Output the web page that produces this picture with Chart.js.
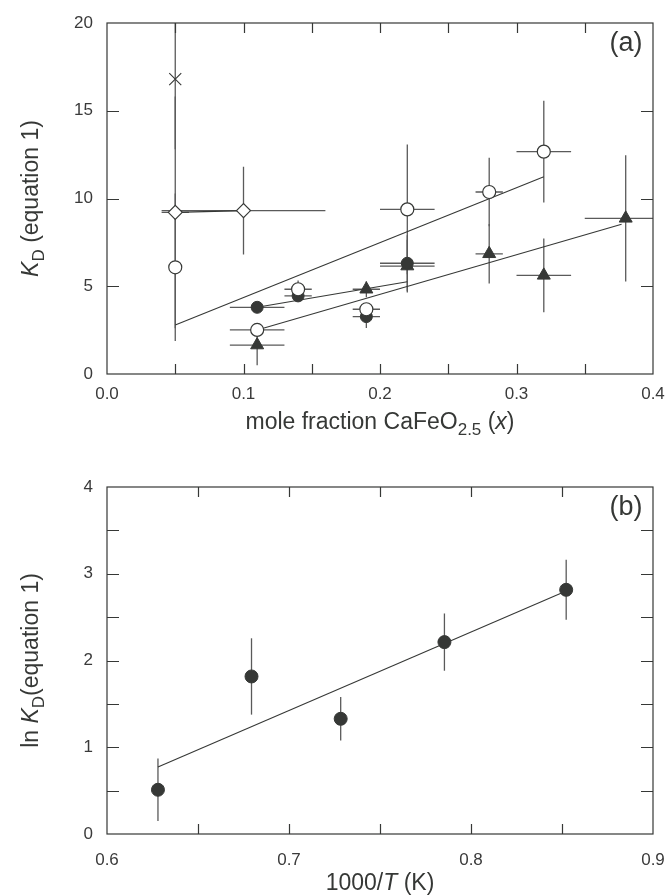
<!DOCTYPE html>
<html>
<head>
<meta charset="utf-8">
<script src="https://cdn.jsdelivr.net/npm/chart.js@4.4.0/dist/chart.umd.min.js"></script>
<style>
  html, body { margin: 0; padding: 0; background: #fff; }
  #wrap { position: relative; width: 666px; height: 896px; }
  canvas { position: absolute; left: 0; }
  #chartA { top: 0; }
  #chartB { top: 440px; }
</style>
</head>
<body>
<div id="wrap">
  <canvas id="chartA" width="666" height="440"></canvas>
  <canvas id="chartB" width="666" height="456"></canvas>
</div>
<script>
// ---- panel (a): K_D vs mole fraction CaFeO2.5 ----
const openCircX    = [0.05, 0.11, 0.14, 0.19, 0.22, 0.28, 0.32];
const openCircY    = [6.08, 2.51, 4.83, 3.69, 9.38, 10.37, 12.67];
const openCircXErr = [0, 0.02, 0.01, 0.01, 0.02, 0.01, 0.02];
const openCircYErr = [4.2, 0, 0.5, 0.3, 3.7, 1.95, 2.9];

const filledCircX    = [0.11, 0.14, 0.19, 0.22];
const filledCircY    = [3.80, 4.45, 3.27, 6.31];
const filledCircXErr = [0.02, 0.01, 0.01, 0.02];
const filledCircYErr = [0.3, 0.3, 0.65, 1.6];

const triX    = [0.11, 0.19, 0.22, 0.28, 0.32, 0.38];
const triY    = [1.65, 4.83, 6.15, 6.85, 5.62, 8.87];
const triXErr = [0.02, 0.01, 0.02, 0.01, 0.02, 0.03];
const triYErr = [1.15, 0.45, 1.5, 1.7, 2.1, 3.6];

const diamondX    = [0.05, 0.10];
const diamondY    = [9.21, 9.31];
const diamondXErr = [0.01, 0.06];
const diamondYErr = [6.6, 2.5];

const crossX    = [0.05];
const crossY    = [16.8];
const crossYErr = [4];

const circFitX   = [0.05, 0.32];
const circFitY   = [2.79, 11.24];
const filledFitX = [0.11, 0.22];
const filledFitY = [3.80, 5.26];
const triFitX    = [0.11, 0.377];
const triFitY    = [2.51, 8.53];

// ---- panel (b): ln K_D vs 1000/T ----
const invT    = [0.628, 0.6794, 0.7284, 0.7854, 0.8523];
const lnKD    = [0.51, 1.816, 1.328, 2.212, 2.815];
const lnKDErr = [0.36, 0.44, 0.25, 0.33, 0.345];
const lnFitX  = [0.628, 0.8523];
const lnFitY  = [0.772, 2.80];

const INK = '#363836';
const ERR = '#5a5a5a';
const FONT = '"Liberation Sans", Arial, Helvetica, sans-serif';

const pts = (xs, ys) => xs.map((x, i) => ({ x, y: ys[i] }));

// error bars drawn under the markers
const errorBars = {
  id: 'errorBars',
  beforeDatasetsDraw(chart) {
    const { ctx, chartArea: a, scales: { x, y } } = chart;
    ctx.save();
    ctx.beginPath();
    ctx.rect(a.left, a.top, a.right - a.left, a.bottom - a.top);
    ctx.clip();
    ctx.strokeStyle = ERR;
    ctx.lineWidth = 1.3;
    chart.data.datasets.forEach(ds => {
      if (!ds.xErr && !ds.yErr) return;
      ds.data.forEach((p, i) => {
        const ex = ds.xErr ? ds.xErr[i] : 0;
        const ey = ds.yErr ? ds.yErr[i] : 0;
        const px = x.getPixelForValue(p.x), py = y.getPixelForValue(p.y);
        ctx.beginPath();
        if (ex) {
          ctx.moveTo(x.getPixelForValue(p.x - ex), py);
          ctx.lineTo(x.getPixelForValue(p.x + ex), py);
        }
        if (ey) {
          ctx.moveTo(px, y.getPixelForValue(p.y - ey));
          ctx.lineTo(px, y.getPixelForValue(p.y + ey));
        }
        ctx.stroke();
      });
    });
    ctx.restore();
  }
};

// box with inward ticks on all four sides
const frameTicks = {
  id: 'frameTicks',
  afterDraw(chart, args, opts) {
    const { ctx, chartArea: a, scales: { x, y } } = chart;
    ctx.save();
    ctx.strokeStyle = INK;
    ctx.lineWidth = 1.2;
    ctx.strokeRect(a.left, a.top, a.right - a.left, a.bottom - a.top);
    const len = 10;
    ctx.beginPath();
    const nx = Math.round((x.max - x.min) / opts.xStep);
    for (let i = 1; i < nx; i++) {
      const px = Math.round(x.getPixelForValue(x.min + i * opts.xStep)) + 0.5;
      ctx.moveTo(px, a.bottom); ctx.lineTo(px, a.bottom - len);
      ctx.moveTo(px, a.top); ctx.lineTo(px, a.top + len);
    }
    const ny = Math.round((y.max - y.min) / opts.yStep);
    for (let i = 1; i < ny; i++) {
      const py = Math.round(y.getPixelForValue(y.min + i * opts.yStep)) + 0.5;
      ctx.moveTo(a.left, py); ctx.lineTo(a.left + len + 2, py);
      ctx.moveTo(a.right, py); ctx.lineTo(a.right - len - 2, py);
    }
    ctx.stroke();
    ctx.restore();
  }
};

function richText(ctx, parts, x, y, size, rotate) {
  ctx.save();
  ctx.translate(x, y);
  if (rotate) ctx.rotate(-Math.PI / 2);
  const fontOf = p => (p.italic ? 'italic ' : '') + (p.sub ? Math.round(size * 0.72) : size) + 'px ' + FONT;
  let total = 0;
  parts.forEach(p => { ctx.font = fontOf(p); total += ctx.measureText(p.t).width; });
  let cx = -total / 2;
  ctx.fillStyle = INK;
  ctx.textBaseline = 'alphabetic';
  parts.forEach(p => {
    ctx.font = fontOf(p);
    ctx.fillText(p.t, cx, p.sub ? size * 0.28 : 0);
    cx += ctx.measureText(p.t).width;
  });
  ctx.restore();
}

const titles = {
  id: 'titles',
  afterDraw(chart, args, opts) {
    const { ctx, chartArea: a } = chart;
    const mid = (a.top + a.bottom) / 2;
    richText(ctx, opts.yTitle, 38, mid, 23, true);
    richText(ctx, opts.xTitle, (a.left + a.right) / 2, opts.xTitleY, 23, false);
    ctx.save();
    ctx.font = '27px ' + FONT;
    ctx.fillStyle = INK;
    ctx.textAlign = 'center';
    ctx.fillText(opts.panel, 626, a.top + 28);
    ctx.restore();
  }
};

function axis(min, max, step, pad, digits, isX, size) {
  return {
    type: 'linear', min, max,
    grid: { display: false, drawTicks: false },
    border: { display: false },
    ticks: {
      stepSize: step, padding: pad, color: '#3a3a3a',
      font: { family: FONT, size: 17 },
      callback: v => v.toFixed(digits)
    },
    afterFit: s => {
      if (isX) { s.height = size; s.paddingLeft = 0; s.paddingRight = 0; }
      else { s.width = size; s.paddingTop = 0; s.paddingBottom = 0; }
    }
  };
}

const baseOpts = {
  responsive: false,
  animation: false,
  events: [],
};

new Chart(document.getElementById('chartA'), {
  type: 'scatter',
  data: {
    datasets: [
      { data: pts(crossX, crossY), yErr: crossYErr, pointStyle: 'crossRot', pointRadius: 8.5,
        borderColor: INK, borderWidth: 1.1, order: 1 },
      { data: pts(openCircX, openCircY), xErr: openCircXErr, yErr: openCircYErr, pointStyle: 'circle',
        pointRadius: 6.5, backgroundColor: '#fff', borderColor: INK, borderWidth: 1.2, order: 1 },
      { data: pts(diamondX, diamondY), xErr: diamondXErr, yErr: diamondYErr, pointStyle: 'rectRot',
        pointRadius: 7, backgroundColor: '#fff', borderColor: INK, borderWidth: 1.2,
        showLine: true, order: 2 },
      { data: pts(filledCircX, filledCircY), xErr: filledCircXErr, yErr: filledCircYErr, pointStyle: 'circle',
        pointRadius: 6, backgroundColor: INK, borderColor: INK, borderWidth: 1, order: 3 },
      { data: pts(triX, triY), xErr: triXErr, yErr: triYErr, pointStyle: 'triangle',
        pointRadius: 7.5, backgroundColor: INK, borderColor: INK, borderWidth: 1, order: 3 },
      { data: pts(circFitX, circFitY), showLine: true, pointRadius: 0, borderColor: INK, borderWidth: 1.1, order: 5 },
      { data: pts(filledFitX, filledFitY), showLine: true, pointRadius: 0, borderColor: INK, borderWidth: 1.1, order: 5 },
      { data: pts(triFitX, triFitY), showLine: true, pointRadius: 0, borderColor: INK, borderWidth: 1.1, order: 5 }
    ]
  },
  options: {
    ...baseOpts,
    layout: { padding: { left: 47, right: 13, top: 23, bottom: 0 } },
    scales: {
      x: axis(0, 0.4, 0.1, 10, 1, true, 66),
      y: axis(0, 20, 5, 14, 0, false, 60)
    },
    plugins: {
      legend: { display: false },
      tooltip: { enabled: false },
      frameTicks: { xStep: 0.05, yStep: 5 },
      titles: {
        panel: '(a)',
        xTitleY: 429,
        yTitle: [{ t: 'K', italic: true }, { t: 'D', sub: true }, { t: ' (equation 1)' }],
        xTitle: [{ t: 'mole fraction CaFeO' }, { t: '2.5', sub: true }, { t: ' (' }, { t: 'x', italic: true }, { t: ')' }]
      }
    }
  },
  plugins: [errorBars, frameTicks, titles]
});

new Chart(document.getElementById('chartB'), {
  type: 'scatter',
  data: {
    datasets: [
      { data: pts(invT, lnKD), yErr: lnKDErr, pointStyle: 'circle', pointRadius: 6.5,
        backgroundColor: INK, borderColor: INK, borderWidth: 1, order: 1 },
      { data: pts(lnFitX, lnFitY), showLine: true, pointRadius: 0, borderColor: INK, borderWidth: 1.1, order: 5 }
    ]
  },
  options: {
    ...baseOpts,
    layout: { padding: { left: 47, right: 13, top: 47, bottom: 0 } },
    scales: {
      x: axis(0.6, 0.9, 0.1, 16, 1, true, 62),
      y: axis(0, 4, 1, 14, 0, false, 60)
    },
    plugins: {
      legend: { display: false },
      tooltip: { enabled: false },
      frameTicks: { xStep: 0.05, yStep: 0.5 },
      titles: {
        panel: '(b)',
        xTitleY: 450,
        yTitle: [{ t: 'ln ' }, { t: 'K', italic: true }, { t: 'D', sub: true }, { t: '(equation 1)' }],
        xTitle: [{ t: '1000/' }, { t: 'T', italic: true }, { t: ' (K)' }]
      }
    }
  },
  plugins: [errorBars, frameTicks, titles]
});
</script>
</body>
</html>
